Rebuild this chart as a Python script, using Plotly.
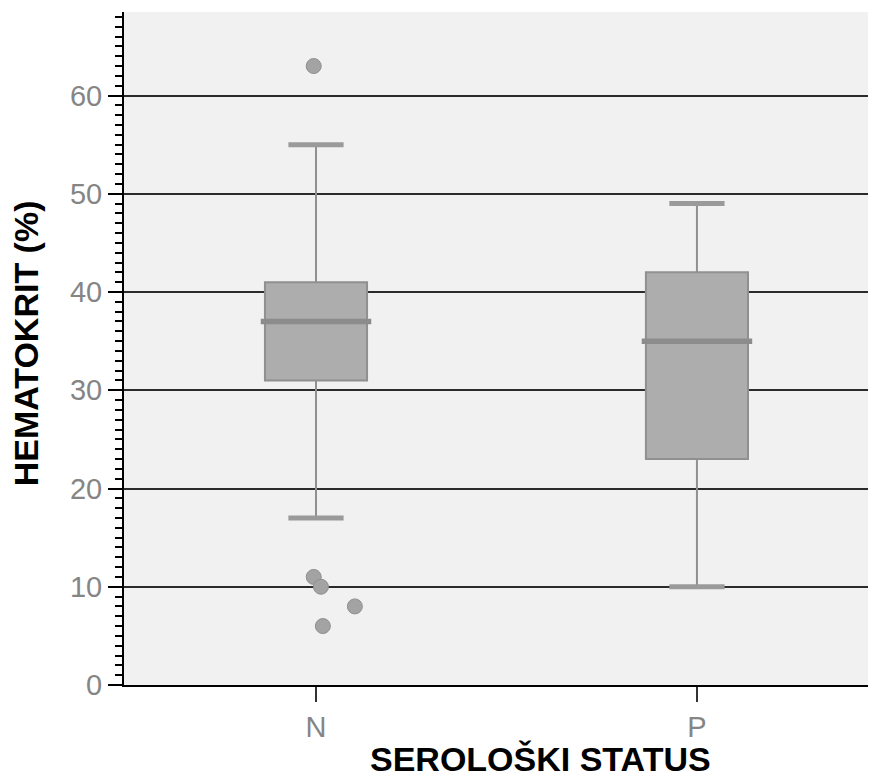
import plotly.graph_objects as go

# ---- data ----
categories = ["N", "P"]
q1 = [31, 23]
median = [37, 35]
q3 = [41, 42]
lower_whisker = [17, 10]
upper_whisker = [55, 49]
outlier_group = ["N", "N", "N", "N", "N"]
outlier_values = [63, 11, 10, 8, 6]
outlier_jitter = [-0.006, -0.006, 0.013, 0.102, 0.018]  # horizontal spread of points

y_tick_vals = [0, 10, 20, 30, 40, 50, 60]
x_title = "SEROLOŠKI STATUS"
y_title = "HEMATOKRIT (%)"

# ---- style ----
FONT = "Liberation Sans, Arial, Helvetica, sans-serif"
BOX_W = 0.268
MED_W = 0.29
CAP_W = 0.145
pos = {c: i for i, c in enumerate(categories)}

fig = go.Figure()

for i, c in enumerate(categories):
    fig.add_trace(go.Box(
        x=[pos[c]], q1=[q1[i]], median=[median[i]], q3=[q3[i]],
        lowerfence=[lower_whisker[i]], upperfence=[upper_whisker[i]],
        width=BOX_W, whiskerwidth=0,
        fillcolor="#adadad", line=dict(color="#909090", width=2),
        boxpoints=False, showlegend=False, hoverinfo="skip",
    ))
    # thick median bar
    fig.add_trace(go.Scatter(
        x=[pos[c] - MED_W / 2, pos[c] + MED_W / 2], y=[median[i], median[i]],
        mode="lines", line=dict(color="#8c8c8c", width=5.5),
        showlegend=False, hoverinfo="skip",
    ))
    # whisker caps
    for v in (lower_whisker[i], upper_whisker[i]):
        fig.add_trace(go.Scatter(
            x=[pos[c] - CAP_W / 2, pos[c] + CAP_W / 2], y=[v, v],
            mode="lines", line=dict(color="#9a9a9a", width=5),
            showlegend=False, hoverinfo="skip",
        ))

fig.add_trace(go.Scatter(
    x=[pos[g] + j for g, j in zip(outlier_group, outlier_jitter)],
    y=outlier_values, mode="markers",
    marker=dict(size=15, color="#a3a3a3", line=dict(color="#8f8f8f", width=1)),
    showlegend=False, hoverinfo="skip",
))

fig.update_layout(
    width=868, height=770,
    margin=dict(l=116, r=0, t=4, b=93),
    paper_bgcolor="white", plot_bgcolor="#f1f1f1",
    font=dict(family=FONT),
    xaxis=dict(
        range=[-0.504, 1.47], tickvals=list(range(len(categories))), ticktext=categories,
        showgrid=False, zeroline=False, showline=True, linecolor="black", linewidth=2,
        ticks="outside", ticklen=15, tickwidth=2, tickcolor="#333",
        tickfont=dict(size=29, color="#858585", family=FONT),
    ),
    yaxis=dict(
        range=[0, 68.5], tickvals=y_tick_vals,
        showgrid=True, gridcolor="#2b2b2b", gridwidth=1.5, zeroline=False,
        showline=True, linecolor="black", linewidth=2,
        ticks="outside", ticklen=14, tickwidth=2, tickcolor="black",
        tickfont=dict(size=29, color="#858585", family=FONT),
        minor=dict(dtick=1, ticks="outside", ticklen=7, tickwidth=2, tickcolor="black", showgrid=False),
    ),
    annotations=[
        dict(text=y_title, xref="paper", yref="paper", x=-0.130, y=0.508,
             xanchor="center", yanchor="middle", textangle=-90, showarrow=False,
             font=dict(size=34, color="black", family=FONT, weight="bold")),
        dict(text=x_title, xref="paper", yref="paper", x=0.5545, y=-0.110,
             xanchor="center", yanchor="middle", showarrow=False,
             font=dict(size=34, color="black", family=FONT, weight="bold")),
    ],
)

fig.write_html("out.html")
